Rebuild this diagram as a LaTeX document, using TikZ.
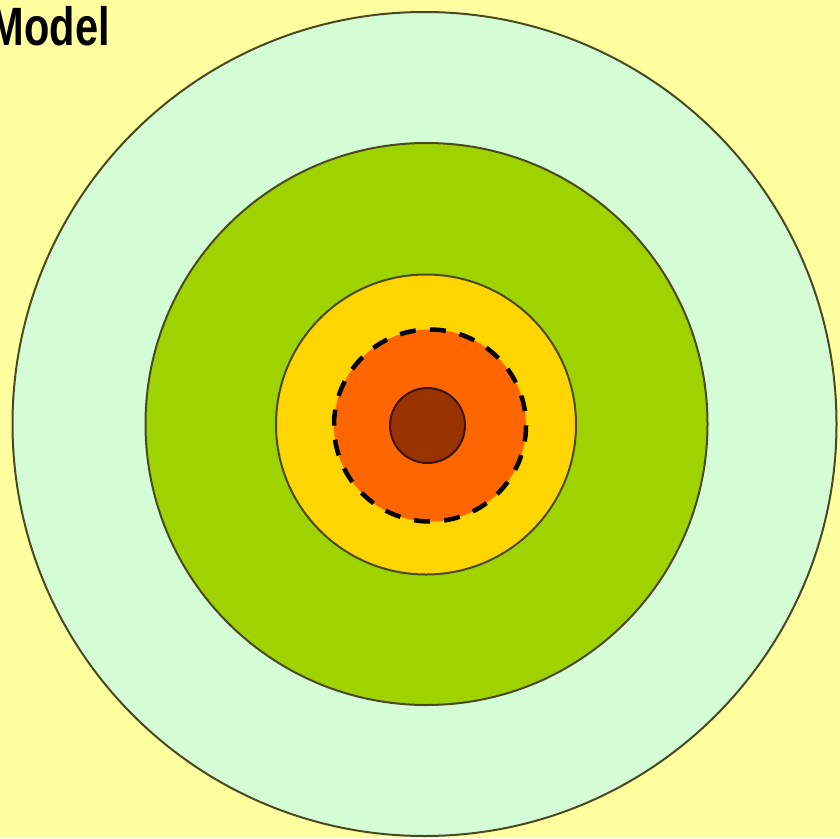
\documentclass[tikz,border=0pt]{standalone}
\usepackage{fontspec}
\setmainfont{Liberation Sans}
\usepackage{xcolor}
\definecolor{bgyellow}{HTML}{FFFFA0}
\definecolor{palegreen}{HTML}{D4FDD6}
\definecolor{limegreen}{HTML}{9FD300}
\definecolor{goldring}{HTML}{FFD500}
\definecolor{orangering}{HTML}{FF6600}
\definecolor{browncore}{HTML}{993300}
\definecolor{ringline}{HTML}{4A4A22}
\tikzset{
  ring/.style={draw=ringline,line width=2pt},
  dashring/.style={draw=black,line width=4.5pt,dash pattern=on 16pt off 14.15pt},
  title/.style={font=\bfseries\fontsize{54}{54}\selectfont,inner sep=0pt,anchor=base east}
}
\begin{document}
\begin{tikzpicture}[x=1pt,y=-1pt]
\useasboundingbox (0,0) rectangle (840,838);
\clip (0,0) rectangle (840,838);
\fill[bgyellow] (0,0) rectangle (840,838);
\node[title] (model) at (110,45) {\scalebox{0.77}[1]{Model}};
% rings, outside in
\filldraw[ring,fill=palegreen] (424.5,424) circle[radius=412];
\filldraw[ring,fill=limegreen] (426.5,424) circle[radius=281];
\filldraw[ring,fill=goldring] (426,424.5) circle[radius=150];
\fill[orangering] (430,425.5) circle[radius=96];
\draw[dashring] (430,425.5) circle[radius=96];
\filldraw[ring,draw=black!60!browncore,fill=browncore] (427.5,425.5) circle[radius=37.5];
\end{tikzpicture}
\end{document}
